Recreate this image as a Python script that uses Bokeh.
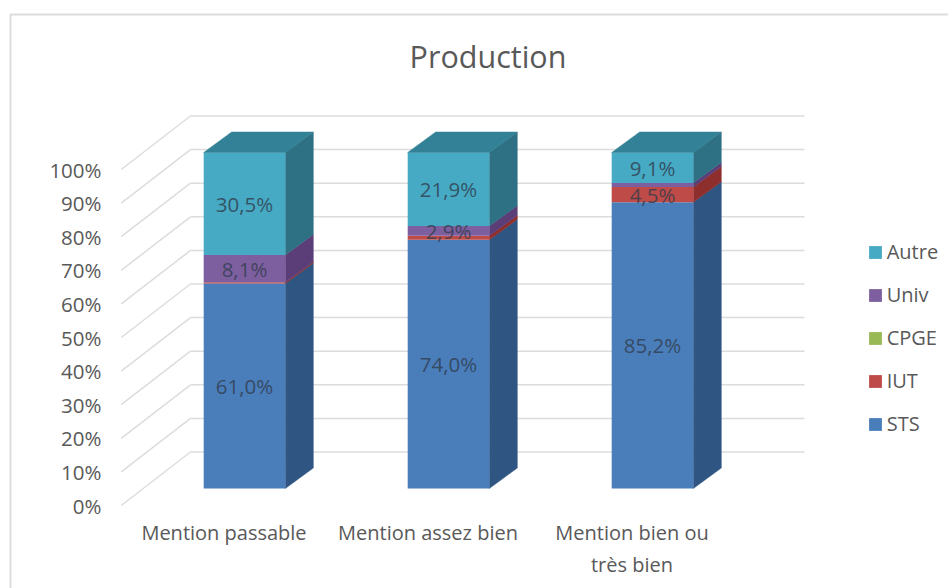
from bokeh.embed import file_html
from bokeh.resources import INLINE
from bokeh.plotting import figure
from bokeh.models import (ColumnDataSource, Range1d, LinearAxis, FixedTicker, PrintfTickFormatter,
                          Legend, LegendItem, Label)

# ---- data -----------------------------------------------------------------
title_text = "Production"
categories = ["Mention passable", "Mention assez bien", "Mention bien ou\ntrès bien"]
series_names = ["STS", "IUT", "CPGE", "Univ", "Autre"]
sts = [61.0, 74.0, 85.2]
iut = [0.4, 1.2, 4.5]
cpge = [0.0, 0.0, 0.0]
univ = [8.1, 2.9, 1.2]
autre = [30.5, 21.9, 9.1]
label_sts = ["61,0%", "74,0%", "85,2%"]
label_univ = ["8,1%", "2,9%", ""]
label_iut = ["", "", "4,5%"]
label_autre = ["30,5%", "21,9%", "9,1%"]
pct_ticks = list(range(0, 101, 10))

# ---- style / layout ---------------------------------------------------------
W, H = 948, 588
FONT = "Open Sans"
front = ["#4a7ebb", "#be4b48", "#98b954", "#7d5fa0", "#46aac4"]
side = ["#2f5583", "#8e2f2d", "#6f8a3c", "#5b3d78", "#2f7184"]
roof = "#338197"
GRID = "#dcdcdc"
TEXT = "#595959"

# scale: one category = 204 px, 1 % = 3.36 px, bar 0 centre at x 244, 0 % at y 488
PX_X, PX_Y = 204.0, 3.36
x0 = -244 / PX_X
x1 = x0 + W / PX_X
y0 = (488 - H) / PX_Y
y1 = y0 + H / PX_Y
HALF = 0.2           # half bar width
DX, DY = 28 / PX_X, 20.5 / PX_Y     # bar depth
WALL_L, WALL_R = (190 - 244) / PX_X, (804 - 244) / PX_X
WALL_LIFT = 36.5 / PX_Y
FRONT_L = (120.7 - 244) / PX_X
FRONT_DROP = 17 / PX_Y
LABEL_SHIFT = 20.5 / PX_X

p = figure(width=W, height=H, output_backend="svg", toolbar_location=None,
           x_range=Range1d(x0, x1), y_range=Range1d(y0, y1),
           x_axis_type=None, y_axis_type=None, min_border=0,
           outline_line_color=None, background_fill_color="white", border_fill_color="white")
p.grid.visible = False
p.extra_y_ranges["front"] = Range1d(y0 + FRONT_DROP, y1 + FRONT_DROP)
p.extra_x_ranges["front"] = Range1d(x0 + LABEL_SHIFT, x1 + LABEL_SHIFT)

# chart-area frame (left and top edges; the others run off the picture)
frame_x = x0 + 10 / PX_X
frame_y = y1 - 14 / PX_Y
p.line([frame_x, frame_x, x1], [y0, frame_y, frame_y], line_color="#dcdcdc", line_width=2)

# back wall and floor/side diagonal grid lines
p.multi_line([[WALL_L, WALL_R] for _ in pct_ticks], [[v + WALL_LIFT] * 2 for v in pct_ticks],
             line_color=GRID, line_width=1.5)
p.multi_line([[FRONT_L, WALL_L] for _ in pct_ticks], [[v - FRONT_DROP, v + WALL_LIFT] for v in pct_ticks],
             line_color=GRID, line_width=1.5)

# stacked 3D bars
stack = [sts, iut, cpge, univ, autre]
idx = list(range(len(categories)))
legend_rs = {}
base = [0.0] * 3
for k, vals in enumerate(stack):
    top = [b + v for b, v in zip(base, vals)]
    xs_side = [[i + HALF, i + HALF + DX, i + HALF + DX, i + HALF] for i in idx]
    ys_side = [[b, b + DY, t + DY, t] for b, t in zip(base, top)]
    if any(vals):
        p.patches(xs_side, ys_side, fill_color=side[k], line_color=side[k], line_width=0.5)
    src = ColumnDataSource(dict(left=[i - HALF for i in idx], right=[i + HALF for i in idx], bottom=base, top=top))
    legend_rs[series_names[k]] = p.quad(left="left", right="right", bottom="bottom", top="top", source=src,
                                        fill_color=front[k], line_color=None)
    base = top

# roof of the stack
p.patches([[i - HALF, i + HALF, i + HALF + DX, i - HALF + DX] for i in idx],
          [[t, t, t + DY, t + DY] for t in base],
          fill_color=roof, line_color=roof, line_width=0.5)

# data labels
def mid_labels(low, vals, texts):
    xs, ys, ts = [], [], []
    for i, (l, v, t) in enumerate(zip(low, vals, texts)):
        if t:
            xs.append(i); ys.append(l + v / 2); ts.append(t)
    return dict(x=xs, y=ys, t=ts)

low = [0.0] * 3
label_map = {0: label_sts, 1: label_iut, 3: label_univ, 4: label_autre}
for k, vals in enumerate(stack):
    if k in label_map:
        p.text("x", "y", text="t", source=ColumnDataSource(mid_labels(low, vals, label_map[k])),
               text_font={"value": FONT}, text_font_size="20.5px", text_color="#303c4c", text_alpha=0.8,
               text_align="center", text_baseline="middle")
    low = [l + v for l, v in zip(low, vals)]

# axes placed in the front plane of the 3D box
yax = LinearAxis(y_range_name="front", ticker=FixedTicker(ticks=pct_ticks),
                 formatter=PrintfTickFormatter(format="%d%%"),
                 axis_line_color=None, major_tick_line_color=None, minor_tick_line_color=None,
                 major_label_text_font=FONT, major_label_text_font_size="20.5px",
                 major_label_text_color=TEXT, major_label_standoff=0)
yax.fixed_location = (107 - 244) / PX_X
p.add_layout(yax, "left")

xax = LinearAxis(x_range_name="front", ticker=FixedTicker(ticks=idx),
                 major_label_overrides={i: c for i, c in enumerate(categories)},
                 axis_line_color=None, major_tick_line_color=None, minor_tick_line_color=None,
                 major_label_text_font=FONT, major_label_text_font_size="20px",
                 major_label_text_color=TEXT, major_label_standoff=0)
xax.fixed_location = (488 - 512) / PX_Y
p.add_layout(xax, "below")

# title
p.add_layout(Label(x=487.5, y=H - 55, x_units="screen", y_units="screen", text=title_text,
                   text_font=FONT, text_font_size="30.5px", text_color=TEXT,
                   text_align="center", text_baseline="middle"))

# legend
legend = Legend(items=[LegendItem(label=n, renderers=[legend_rs[n]]) for n in reversed(series_names)],
                location=(866.7, 151), orientation="vertical", glyph_width=16, glyph_height=16,
                label_standoff=4, spacing=16, label_height=23, padding=0, margin=0,
                border_line_color=None, background_fill_alpha=0,
                label_text_font=FONT, label_text_font_size="20px", label_text_color=TEXT)
p.add_layout(legend)

open("out.html", "w").write(file_html(p, INLINE))
